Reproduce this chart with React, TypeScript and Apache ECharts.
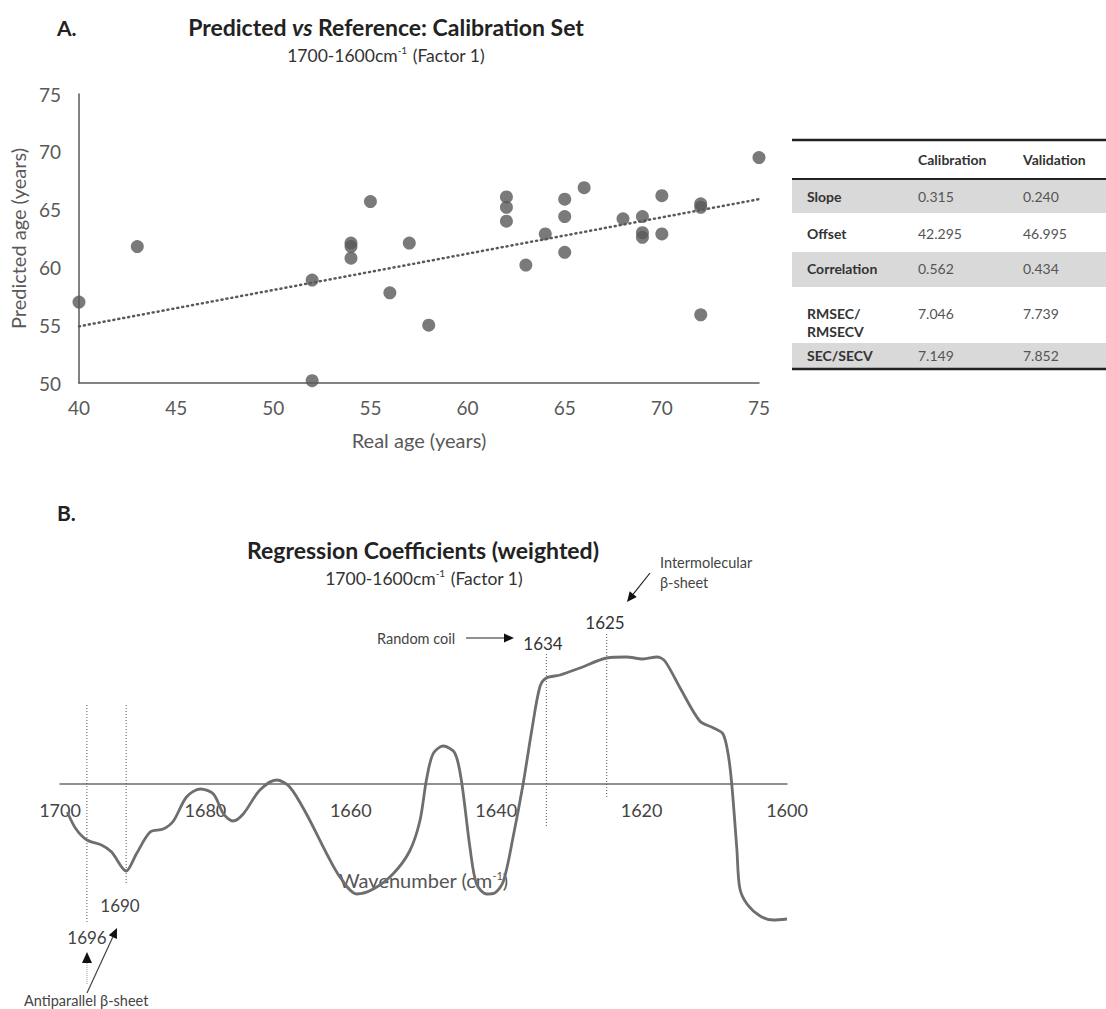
import React, { useEffect, useRef } from "react";
import * as echarts from "echarts";

// ---------- Data: Panel A (scatter) ----------
const realAge = [40, 43, 52, 52, 54, 54, 54, 55, 56, 57, 58, 62, 62, 62, 63, 64, 65, 65, 65, 66, 68, 69, 69, 69, 70, 70, 72, 72, 72, 75];
const predictedAge = [57.0, 61.8, 58.9, 50.2, 62.1, 61.8, 60.8, 65.7, 57.8, 62.1, 55.0, 66.1, 65.2, 64.0, 60.2, 62.9, 65.9, 64.4, 61.3, 66.9, 64.2, 64.4, 63.0, 62.6, 66.2, 62.9, 65.5, 65.2, 55.9, 69.5];
const trendX = [40, 75];
const trendY = [54.9, 65.9];

// ---------- Data: Table ----------
const tableHeaders = ["Calibration", "Validation"];
const tableRows = ["Slope", "Offset", "Correlation", "RMSEC/\nRMSECV", "SEC/SECV"];
const calibrationVals = ["0.315", "42.295", "0.562", "7.046", "7.149"];
const validationVals = ["0.240", "46.995", "0.434", "7.739", "7.852"];

// ---------- Data: Panel B (regression coefficients) ----------
const wavenumber = [1699.0, 1697.8, 1696.3, 1694.3, 1692.9, 1690.9, 1689.5, 1687.6, 1685.8, 1684.4, 1682.6, 1680.7, 1678.9, 1677.5, 1676.2, 1674.8, 1672.5, 1670.2, 1668.4, 1666.1, 1663.3, 1661.5, 1659.2, 1656.9, 1654.2, 1651.9, 1650.5, 1649.6, 1648.7, 1647.3, 1645.7, 1644.8, 1643.6, 1642.7, 1641.3, 1640.2, 1639.0, 1637.7, 1636.3, 1635.1, 1634.0, 1633.1, 1631.2, 1628.5, 1624.8, 1622.1, 1619.8, 1617.9, 1616.8, 1614.7, 1612.0, 1610.1, 1608.8, 1608.1, 1607.6, 1606.9, 1606.5, 1605.5, 1603.7, 1601.9, 1600.0];
const coefficient = [-0.28, -0.45, -0.56, -0.61, -0.68, -0.87, -0.70, -0.48, -0.45, -0.37, -0.13, -0.05, -0.10, -0.30, -0.37, -0.30, -0.06, 0.04, -0.03, -0.30, -0.70, -0.93, -1.10, -1.05, -0.90, -0.67, -0.37, 0.04, 0.30, 0.38, 0.31, 0.04, -0.64, -1.00, -1.10, -1.09, -0.97, -0.54, 0.00, 0.54, 0.97, 1.06, 1.09, 1.16, 1.26, 1.27, 1.25, 1.27, 1.23, 0.96, 0.63, 0.56, 0.50, 0.30, 0.00, -0.65, -1.04, -1.20, -1.32, -1.36, -1.35];
// marker lines: wavenumber position, top value, bottom value
const markerPos = [1696.3, 1690.9, 1633.1, 1624.8];
const markerTop = [0.79, 0.79, 1.30, 1.50];
const markerBottom = [-1.39, -0.99, -0.44, -0.14];

const FONT = "Lato, 'Open Sans', sans-serif";

function arrow(x1: number, y1: number, x2: number, y2: number, len = 10, w = 4.5, stroke = "#222") {
  const dx = x2 - x1, dy = y2 - y1;
  const L = Math.hypot(dx, dy);
  const ux = dx / L, uy = dy / L;
  const bx = x2 - ux * len, by = y2 - uy * len;
  const px = -uy, py = ux;
  return [
    { type: "line", silent: true, shape: { x1, y1, x2: bx, y2: by }, style: { stroke, lineWidth: 1.2 } },
    { type: "polygon", silent: true, shape: { points: [[x2, y2], [bx + px * w, by + py * w], [bx - px * w, by - py * w]] }, style: { fill: "#111" } },
  ];
}

function txt(text: string, x: number, y: number, opts: any = {}) {
  return {
    type: "text",
    silent: true,
    x,
    y,
    style: {
      text,
      fontFamily: FONT,
      fontSize: opts.fontSize ?? 12,
      fontWeight: opts.fontWeight ?? "normal",
      fill: opts.fill ?? "#333",
      align: opts.align ?? "center",
      verticalAlign: opts.verticalAlign ?? "middle",
      lineHeight: opts.lineHeight,
      rich: opts.rich,
    },
  };
}

export default function App() {
  const ref = useRef<HTMLDivElement>(null);

  useEffect(() => {
    if (!ref.current) return;
    const chart = echarts.init(ref.current, undefined, { renderer: "svg" });

    const scatterData = realAge.map((x, i) => [x, predictedAge[i]]);
    const trendData = trendX.map((x, i) => [x, trendY[i]]);
    const curveData = wavenumber.map((w, i) => [w, coefficient[i]]);
    const markerSeries = markerPos.map((p, i) => ({
      type: "line",
      xAxisIndex: 1,
      yAxisIndex: 1,
      data: [[p, markerTop[i]], [p, markerBottom[i]]],
      showSymbol: false,
      symbol: "none",
      clip: false,
      silent: true,
      lineStyle: { color: "#555", width: 1, type: [1, 2] },
      z: 1,
    }));

    const subRich = {
      n: { fontFamily: FONT, fontSize: 17.5, fill: "#333", lineHeight: 20 },
      s: { fontFamily: FONT, fontSize: 10, fill: "#333", verticalAlign: "top", lineHeight: 20, padding: [0, 1, 9, 0] },
    };

    // Table graphics
    const tableEls: any[] = [];
    const tLeft = 792, tRight = 1106;
    const bands = [[179, 213], [213, 252], [252, 287], [287, 343], [343, 368]];
    const textY = [196, 233, 268, 313, 355];
    const shaded = [true, false, true, false, true];
    bands.forEach((b, i) => {
      if (shaded[i]) {
        tableEls.push({ type: "rect", silent: true, shape: { x: tLeft, y: b[0], width: tRight - tLeft, height: b[1] - b[0] }, style: { fill: "#d9d9d9" } });
      }
    });
    tableEls.push({ type: "line", silent: true, shape: { x1: tLeft, y1: 140, x2: tRight, y2: 140 }, style: { stroke: "#222", lineWidth: 2.5 } });
    tableEls.push({ type: "line", silent: true, shape: { x1: tLeft, y1: 179, x2: tRight, y2: 179 }, style: { stroke: "#222", lineWidth: 2 } });
    tableEls.push({ type: "line", silent: true, shape: { x1: tLeft, y1: 369, x2: tRight, y2: 369 }, style: { stroke: "#222", lineWidth: 2.5 } });
    const TF = 14;
    tableEls.push(txt(tableHeaders[0], 918, 159, { align: "left", fontWeight: "bold", fontSize: TF, fill: "#333" }));
    tableEls.push(txt(tableHeaders[1], 1023, 159, { align: "left", fontWeight: "bold", fontSize: TF, fill: "#333" }));
    tableRows.forEach((r, i) => {
      const top = textY[i] - 9;
      tableEls.push(txt(r, 807, top, { align: "left", verticalAlign: "top", fontWeight: "bold", fontSize: TF, fill: "#333", lineHeight: 18 }));
      tableEls.push(txt(calibrationVals[i], 918, top, { align: "left", verticalAlign: "top", fontSize: TF, fill: "#555", lineHeight: 18 }));
      tableEls.push(txt(validationVals[i], 1023, top, { align: "left", verticalAlign: "top", fontSize: TF, fill: "#555", lineHeight: 18 }));
    });

    const annotations: any[] = [
      txt("A.", 57, 27, { align: "left", fontWeight: "bold", fontSize: 21, fill: "#222" }),
      txt("{b|Predicted }{i|vs}{b| Reference: Calibration Set}", 386, 27, {
        rich: {
          b: { fontFamily: FONT, fontSize: 23, fontWeight: "bold", fill: "#222" },
          i: { fontFamily: FONT, fontSize: 23, fontWeight: "bold", fontStyle: "italic", fill: "#222" },
        },
      }),
      txt("{n|1700-1600cm}{s|-1}{n| (Factor 1)}", 386, 55, { rich: subRich }),
      txt("B.", 57, 512, { align: "left", fontWeight: "bold", fontSize: 21, fill: "#222" }),
      txt("Regression Coefficients (weighted)", 423, 550, { fontWeight: "bold", fontSize: 23, fill: "#222" }),
      txt("{n|1700-1600cm}{s|-1}{n| (Factor 1)}", 424, 578, { rich: subRich }),
      txt("Intermolecular\nβ-sheet", 660, 552, { align: "left", verticalAlign: "top", fontSize: 14.5, fill: "#444", lineHeight: 20 }),
      ...arrow(650, 573, 627, 602),
      txt("1625", 605, 622, { fontSize: 17, fill: "#333" }),
      txt("Random coil", 377, 638, { align: "left", fontSize: 14.5, fill: "#444" }),
      ...arrow(466, 638, 514, 638),
      txt("1634", 543, 643, { fontSize: 17, fill: "#333" }),
      txt("1690", 120, 905, { fontSize: 17, fill: "#444" }),
      txt("1696", 87, 937, { fontSize: 17, fill: "#444" }),
      { type: "line", silent: true, shape: { x1: 87, y1: 984, x2: 87, y2: 962 }, style: { stroke: "#999", lineWidth: 1, lineDash: [1, 1] } },
      { type: "polygon", silent: true, shape: { points: [[87, 952], [82, 963], [92, 963]] }, style: { fill: "#111" } },
      ...arrow(87, 993, 117, 928, 10, 4.5, "#444"),
      txt("Antiparallel β-sheet", 24, 1000, { align: "left", fontSize: 14.5, fill: "#444" }),
    ];

    chart.setOption({
      animation: false,
      backgroundColor: "#ffffff",
      textStyle: { fontFamily: FONT },
      grid: [
        { left: 79, top: 94, width: 680, height: 289, containLabel: false, outerBoundsMode: "none" },
        // grid B: bottom edge sits on the zero line; negative values are drawn below it (clip: false)
        { left: 60, top: 624, width: 727, height: 160, containLabel: false, outerBoundsMode: "none" },
      ],
      xAxis: [
        {
          gridIndex: 0,
          type: "value",
          min: 40,
          max: 75,
          interval: 5,
          name: "Real age (years)",
          nameLocation: "middle",
          nameGap: 47,
          nameTextStyle: { fontFamily: FONT, fontSize: 20, color: "#595959" },
          axisLine: { show: true, lineStyle: { color: "#595959", width: 1.5 } },
          axisTick: { show: false },
          splitLine: { show: false },
          axisLabel: { fontFamily: FONT, fontSize: 19, color: "#595959", margin: 15 },
        },
        {
          gridIndex: 1,
          type: "value",
          min: 1600,
          max: 1700,
          interval: 20,
          inverse: true,
          name: "Wavenumber (cm{sup|-1})",
          nameLocation: "middle",
          nameGap: 86,
          nameTextStyle: {
            fontFamily: FONT,
            fontSize: 20,
            color: "#555",
            rich: { sup: { fontFamily: FONT, fontSize: 11, color: "#555", verticalAlign: "top", padding: [0, 0, 9, 0] } },
          },
          axisLine: { show: true, onZero: false, lineStyle: { color: "#6b6b6b", width: 1.5 } },
          axisTick: { show: false },
          splitLine: { show: false },
          axisLabel: { fontFamily: FONT, fontSize: 18, color: "#444", margin: 17, formatter: (v: number) => String(v) },
        },
      ],
      yAxis: [
        {
          gridIndex: 0,
          type: "value",
          min: 50,
          max: 75,
          interval: 5,
          name: "Predicted age (years)",
          nameLocation: "middle",
          nameGap: 46,
          nameTextStyle: { fontFamily: FONT, fontSize: 20, color: "#595959" },
          axisLine: { show: true, lineStyle: { color: "#595959", width: 1.5 } },
          axisTick: { show: false },
          splitLine: { show: false },
          axisLabel: { fontFamily: FONT, fontSize: 19, color: "#595959", margin: 18 },
        },
        {
          gridIndex: 1,
          type: "value",
          min: 0,
          max: 1.6,
          show: false,
          splitLine: { show: false },
        },
      ],
      series: [
        {
          type: "line",
          xAxisIndex: 0,
          yAxisIndex: 0,
          data: trendData,
          showSymbol: false,
          symbol: "none",
          lineStyle: { color: "#595959", width: 2.5, type: [1, 4], cap: "round" },
          z: 2,
        },
        {
          type: "scatter",
          xAxisIndex: 0,
          yAxisIndex: 0,
          data: scatterData,
          symbol: "circle",
          symbolSize: 13,
          itemStyle: { color: "#595959" },
          z: 3,
        },
        ...markerSeries,
        {
          type: "line",
          xAxisIndex: 1,
          yAxisIndex: 1,
          data: curveData,
          smooth: 0.3,
          showSymbol: false,
          symbol: "none",
          clip: false,
          lineStyle: { color: "#6e6e6e", width: 2.8 },
          z: 2,
        },
      ],
      graphic: [...tableEls, ...annotations],
    });

    return () => chart.dispose();
  }, []);

  return <div ref={ref} style={{ position: "absolute", left: 0, top: 0, width: 1106, height: 1009 }} />;
}
